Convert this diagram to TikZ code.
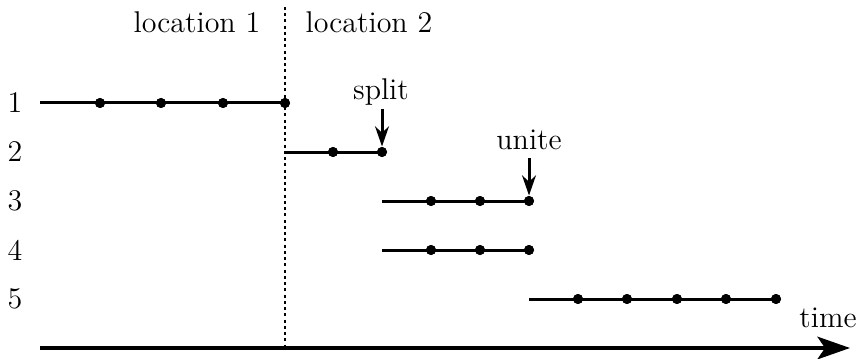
\documentclass[tikz,border=0pt]{standalone}
\usetikzlibrary{arrows.meta}
\begin{document}
\begin{tikzpicture}[x=0.4pt,y=-0.4pt,
  every node/.style={font=\fontsize{12}{14}\selectfont},
  dot/.style={circle,fill=black,inner sep=0pt,minimum size=4pt},
  tl/.style={line width=1.2pt},
  lbl/.style={anchor=base},
  ev/.style={line width=1.2pt,-{Stealth[length=8pt,width=5.5pt,inset=2.5pt]}},
  sep/.style={line width=0.9pt,dash pattern=on 1.2pt off 1.3pt}]
\useasboundingbox (0,0) rectangle (858,359);
% row labels
\foreach \i/\y in {1/103,2/152,3/201,4/250,5/299}
  \node (r\i) at (15,\y) {\i};
% location labels
\node[lbl] (loc1) at (197,33) {location 1};
\node[lbl] (loc2) at (369,33) {location 2};
% separator
\coordinate (septop) at (285,7);
\coordinate (sepbot) at (285,348);
\draw[sep] (septop) -- (sepbot);
% row 1
\coordinate (s1) at (40,103);
\node[dot] (d11) at (100,103) {};
\node[dot] (d12) at (161,103) {};
\node[dot] (d13) at (223,103) {};
\node[dot] (d14) at (285,103) {};
\draw[tl] (s1) -- (d14.center);
% row 2
\coordinate (s2) at (285,152);
\node[dot] (d21) at (333,152) {};
\node[dot] (d22) at (382,152) {};
\draw[tl] (s2) -- (d22.center);
% row 3
\coordinate (s3) at (382,201);
\node[dot] (d31) at (431,201) {};
\node[dot] (d32) at (480,201) {};
\node[dot] (d33) at (529,201) {};
\draw[tl] (s3) -- (d33.center);
% row 4
\coordinate (s4) at (382,250);
\node[dot] (d41) at (431,250) {};
\node[dot] (d42) at (480,250) {};
\node[dot] (d43) at (529,250) {};
\draw[tl] (s4) -- (d43.center);
% row 5
\coordinate (s5) at (529,299);
\node[dot] (d51) at (578,299) {};
\node[dot] (d52) at (627,299) {};
\node[dot] (d53) at (677,299) {};
\node[dot] (d54) at (726,299) {};
\node[dot] (d55) at (776,299) {};
\draw[tl] (s5) -- (d55.center);
% redraw dots on top
\foreach \n in {d11,d12,d13,d14,d21,d22,d31,d32,d33,d41,d42,d43,d51,d52,d53,d54,d55}
  \fill (\n.center) circle (2pt);
% events
\node[lbl] (split) at (381,100) {split};
\draw[ev] (d22 |- 0,109) -- (d22.north);
\node[lbl] (unite) at (529,149) {unite};
\draw[ev] (d33 |- 0,158) -- (d33.north);
% time axis
\coordinate (t0) at (40,348);
\coordinate (t1) at (850,348);
\draw[line width=1.6pt,-{Stealth[length=13pt,width=9pt,inset=3pt]}] (t0) -- (t1);
\node[lbl] (time) at (828,327) {time};
\end{tikzpicture}
\end{document}
